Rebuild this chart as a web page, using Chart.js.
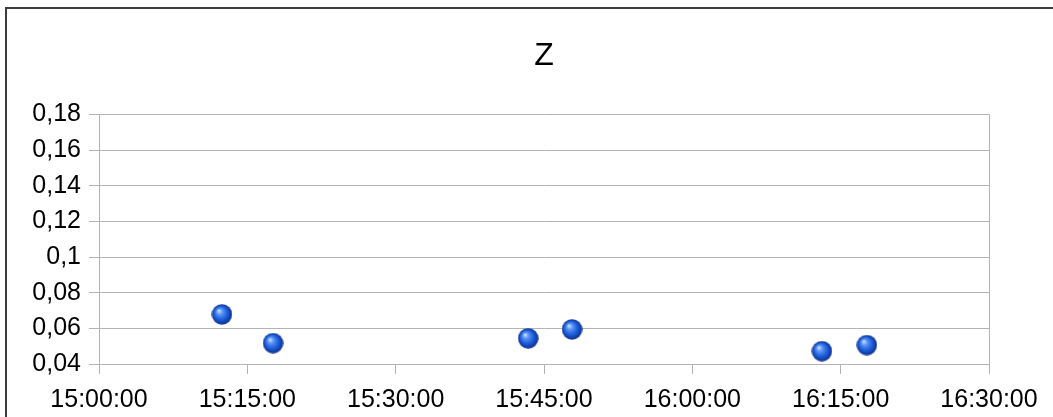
<!DOCTYPE html>
<html>
<head>
<meta charset="utf-8">
<script src="https://cdn.jsdelivr.net/npm/chart.js@4/dist/chart.umd.min.js"></script>
<style>
  html, body { margin: 0; padding: 0; background: #fff; }
  #wrap { position: relative; width: 1053px; height: 417px; overflow: hidden; }
  #frame { position: absolute; left: 5px; top: 7px; width: 1100px; height: 500px;
           border-top: 2px solid #3c3c3c; border-left: 2px solid #3c3c3c; pointer-events: none; }
  canvas { position: absolute; left: 0; top: 0; }
</style>
</head>
<body>
<div id="wrap">
  <canvas id="chart" width="1053" height="417"></canvas>
  <div id="frame"></div>
</div>
<script>
// Measurement times and Z values
const times = ["15:12:26", "15:17:36", "15:43:24", "15:47:50", "16:13:06", "16:17:39"];
const zValues = [0.0678, 0.0517, 0.0544, 0.0594, 0.0472, 0.0506];

// Axis ticks
const xTickLabels = ["15:00:00", "15:15:00", "15:30:00", "15:45:00", "16:00:00", "16:15:00", "16:30:00"];
const yTickLabels = ["0,04", "0,06", "0,08", "0,1", "0,12", "0,14", "0,16", "0,18"];

const toSeconds = s => { const [h, m, sec] = s.split(":").map(Number); return h * 3600 + m * 60 + sec; };
const pad2 = n => String(n).padStart(2, "0");
const fmtTime = v => { const h = Math.floor(v / 3600), m = Math.floor((v % 3600) / 60), s = Math.round(v % 60); return pad2(h) + ":" + pad2(m) + ":" + pad2(s); };

const xMin = toSeconds(xTickLabels[0]);
const xMax = toSeconds(xTickLabels[xTickLabels.length - 1]);
const yMin = parseFloat(yTickLabels[0].replace(",", "."));
const yMax = parseFloat(yTickLabels[yTickLabels.length - 1].replace(",", "."));

// Glossy blue sphere marker
function makeSphere(d) {
  const c = document.createElement("canvas");
  c.width = d; c.height = d;
  const g = c.getContext("2d");
  const r = d / 2;
  const grad = g.createRadialGradient(r * 0.7, r * 0.65, r * 0.05, r, r, r);
  grad.addColorStop(0, "#c0dcff");
  grad.addColorStop(0.25, "#5a94f2");
  grad.addColorStop(0.6, "#1f5fdc");
  grad.addColorStop(1, "#0a2c8a");
  g.fillStyle = grad;
  g.beginPath();
  g.arc(r, r, r - 0.3, 0, Math.PI * 2);
  g.fill();
  return c;
}
const sphere = makeSphere(21);

const points = times.map((t, i) => ({ x: toSeconds(t), y: zValues[i] }));

const gridColor = "#b3b3b3";

// Closes the plot frame on the right and centres the title over the plot area
const frameAndTitle = {
  id: "frameAndTitle",
  afterLayout(chart) {
    const tb = chart.titleBlock;
    if (tb) {
      tb.left = chart.chartArea.left;
      tb.right = chart.chartArea.right;
      tb.width = tb.right - tb.left;
    }
  },
  afterDatasetsDraw(chart) {
    const { ctx, chartArea } = chart;
    ctx.save();
    ctx.strokeStyle = gridColor;
    ctx.lineWidth = 1;
    ctx.beginPath();
    ctx.moveTo(Math.round(chartArea.right) + 0.5, chartArea.top);
    ctx.lineTo(Math.round(chartArea.right) + 0.5, chartArea.bottom);
    ctx.stroke();
    ctx.restore();
  }
};

Chart.defaults.font.family = "'Liberation Sans', Arial, sans-serif";
Chart.defaults.color = "#000";

new Chart(document.getElementById("chart"), {
  type: "scatter",
  data: {
    datasets: [{
      label: "Z",
      data: points,
      pointStyle: sphere,
      pointRadius: 10.5,
      pointHoverRadius: 10.5
    }]
  },
  plugins: [frameAndTitle],
  options: {
    responsive: false,
    animation: false,
    layout: { padding: { left: 0, right: 64, top: 0, bottom: 0 } },
    plugins: {
      legend: { display: false },
      tooltip: { enabled: false },
      title: {
        display: true,
        text: "Z",
        font: { size: 32, weight: "normal" },
        color: "#000",
        padding: { top: 37, bottom: 39 }
      }
    },
    scales: {
      x: {
        type: "linear",
        min: xMin,
        max: xMax,
        afterBuildTicks: s => { s.ticks = xTickLabels.map(l => ({ value: toSeconds(l) })); },
        ticks: {
          callback: v => fmtTime(v),
          font: { size: 25 },
          padding: 11,
          maxRotation: 0,
          autoSkip: false
        },
        grid: { display: true, drawOnChartArea: false, tickLength: 10, color: gridColor },
        border: { color: gridColor },
        afterFit: s => { s.height = 53; }
      },
      y: {
        min: yMin,
        max: yMax,
        afterBuildTicks: s => { s.ticks = yTickLabels.map(l => ({ value: parseFloat(l.replace(",", ".")) })); },
        ticks: {
          callback: v => Number(v.toFixed(2)).toString().replace(".", ","),
          font: { size: 25 },
          padding: 8
        },
        grid: { color: gridColor, tickLength: 10 },
        border: { color: gridColor },
        afterFit: s => { s.width = 99; }
      }
    }
  }
});
</script>
</body>
</html>
